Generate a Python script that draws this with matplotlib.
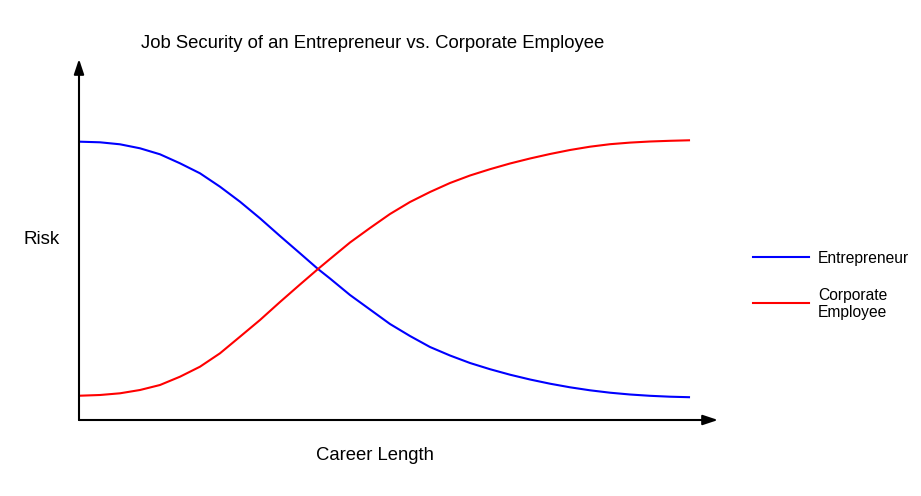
import matplotlib.pyplot as plt

plt.rcParams["font.family"] = ["Liberation Sans", "DejaVu Sans"]

# career length and risk in arbitrary units
career = [0, 20, 40, 60, 80, 100, 120, 140, 160, 180, 200, 220, 238, 250, 270, 290,
          310, 330, 350, 370, 390, 410, 430, 450, 470, 490, 510, 530, 550, 570, 590, 609]
entrepreneur = [278.3, 277.7, 275.7, 271.7, 265.7, 256.7, 246.7, 233.3, 218.3, 201.7,
                184, 166.7, 151, 141.5, 125, 110.5, 96, 84, 73, 64.5, 57, 50.8, 45.3,
                40.5, 36.3, 32.7, 29.7, 27.3, 25.5, 24.2, 23.3, 22.8]
corporate = [24.3, 25, 26.7, 30, 35, 43.3, 53.3, 66.7, 83.3, 100, 118, 135.5, 151, 161,
             177.5, 192, 206, 218, 228, 237, 244.5, 250.8, 256.5, 261.5, 266, 270, 273.3,
             275.8, 277.4, 278.5, 279.2, 279.7]

W, H = 921, 496
fig = plt.figure(figsize=(W / 100, H / 100), dpi=100)
ax = fig.add_axes([79 / W, (H - 420) / H, (718 - 79) / W, (420 - 59) / H])
ax.set_xlim(-1, 638)
ax.set_ylim(0, 361)

ax.plot(career, entrepreneur, color="#0000ff", lw=1.5, solid_joinstyle="round")
ax.plot(career, corporate, color="#ff0000", lw=1.5, solid_joinstyle="round")

for s in ax.spines.values():
    s.set_visible(False)
ax.set_xticks([])
ax.set_yticks([])

# axes with arrow heads
arrow = dict(arrowstyle="-|>,head_length=0.9,head_width=0.3", color="black", lw=1.5,
             shrinkA=0, shrinkB=0)
ax.annotate("", xy=(1, 0), xytext=(0, 0), xycoords="axes fraction", arrowprops=arrow,
            annotation_clip=False)
ax.annotate("", xy=(0, 1), xytext=(0, 0), xycoords="axes fraction", arrowprops=arrow,
            annotation_clip=False)

fig.text(372.5 / W, 1 - 43 / H, "Job Security of an Entrepreneur vs. Corporate Employee",
         ha="center", va="center", fontsize=13.3)
fig.text(42 / W, 1 - 240 / H, "Risk", ha="center", va="center", fontsize=13.5)
fig.text(375 / W, 1 - 456 / H, "Career Length", ha="center", va="center", fontsize=13.3)

# legend drawn by hand
fig.add_artist(plt.Line2D([753 / W, 809 / W], [1 - 257 / H] * 2, color="#0000ff", lw=1.5))
fig.add_artist(plt.Line2D([753 / W, 809 / W], [1 - 303 / H] * 2, color="#ff0000", lw=1.5))
fig.text(818 / W, 1 - 258 / H, "Entrepreneur", ha="left", va="center", fontsize=11.25)
fig.text(818 / W, 1 - 304 / H, "Corporate\nEmployee", ha="left", va="center",
         fontsize=11.25, linespacing=1.15)

fig.savefig("out.png", dpi=100)
